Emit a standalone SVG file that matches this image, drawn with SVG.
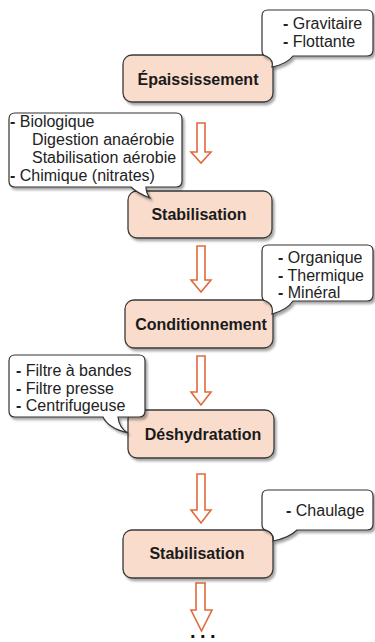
<svg xmlns="http://www.w3.org/2000/svg" width="375" height="642" viewBox="0 0 375 642">
<defs>
<filter id="sh" x="-10%" y="-10%" width="130%" height="140%">
<feDropShadow dx="2" dy="2.5" stdDeviation="1.3" flood-color="#000" flood-opacity="0.35"/>
</filter>
<style>
.box{fill:#f9dccb;stroke:#3a3a3a;stroke-width:1.3;filter:url(#sh)}
.call{fill:#fff;stroke:#333;stroke-width:1.2;filter:url(#sh)}
.lbl{font-family:"Liberation Sans",Arial,sans-serif;font-size:16px;font-weight:bold;fill:#1a1a1a;text-anchor:middle}
.txt{font-family:"Liberation Sans",Arial,sans-serif;font-size:16px;fill:#222}
.d{font-weight:bold}
.arr{fill:#fff;stroke:#e0693c;stroke-width:1.6;stroke-linejoin:miter}
</style>
</defs>
<rect width="375" height="642" fill="#fff"/>

<g id="connectors">
<path class="arr" d="M197,123 H205 V152 H211 L201,163 L191,152 H197 Z"/>
<path class="arr" d="M197,246 H205 V280 H211 L201,292 L191,280 H197 Z"/>
<path class="arr" d="M197,356 H205 V392 H211 L201,405 L191,392 H197 Z"/>
<path class="arr" d="M197,474 H205 V510 H211 L201,523 L191,510 H197 Z"/>
<path class="arr" d="M196,583 H205 V610 H212 L201.5,631 L191,610 H196 Z"/>
</g>

<g id="n1">
<rect class="box" x="123" y="55" width="150" height="47" rx="9"/>
<text class="lbl" x="198" y="84.5">Épaississement</text>
</g>
<g id="n2">
<rect class="box" x="128" y="191" width="144" height="47" rx="9"/>
<text class="lbl" x="199" y="220">Stabilisation</text>
</g>
<g id="n3">
<rect class="box" x="125" y="300" width="148" height="48" rx="9"/>
<text class="lbl" x="201" y="330">Conditionnement</text>
</g>
<g id="n4">
<rect class="box" x="128" y="410" width="146" height="48" rx="9"/>
<text class="lbl" x="203" y="440">Déshydratation</text>
</g>
<g id="n5">
<rect class="box" x="123" y="530" width="150" height="48" rx="9"/>
<text class="lbl" x="197" y="559">Stabilisation</text>
</g>

<g id="c1">
<path class="call" d="M268,10 H367 Q373,10 373,16 V50 Q373,56 367,56 H293 Q287,64 272,67 Q274,60 266,56 Q262,56 262,50 V16 Q262,10 268,10 Z"/>
<text class="txt" x="283" y="29"><tspan class="d">-</tspan> Gravitaire</text>
<text class="txt" x="283" y="47"><tspan class="d">-</tspan> Flottante</text>
</g>
<g id="c2">
<path class="call" d="M15,113 H176 Q182,113 182,119 V181 Q182,187 176,187 H146 Q146,193 150,198 Q137,193 131,187 H15 Q9,187 9,181 V119 Q9,113 15,113 Z"/>
<text class="txt" x="10" y="127"><tspan class="d">-</tspan> Biologique</text>
<text class="txt" x="32" y="145">Digestion anaérobie</text>
<text class="txt" x="32" y="163">Stabilisation aérobie</text>
<text class="txt" x="10" y="181"><tspan class="d">-</tspan> Chimique (nitrates)</text>
</g>
<g id="c3">
<path class="call" d="M268,245 H367 Q373,245 373,251 V295 Q373,301 367,301 H293 Q287,310 272,314 Q274,305 266,301 Q262,301 262,295 V251 Q262,245 268,245 Z"/>
<text class="txt" x="278" y="263"><tspan class="d">-</tspan> Organique</text>
<text class="txt" x="278" y="281"><tspan class="d">-</tspan> Thermique</text>
<text class="txt" x="278" y="298"><tspan class="d">-</tspan> Minéral</text>
</g>
<g id="c4">
<path class="call" d="M15,355 H139 Q145,355 145,361 V411 Q145,417 139,417 H118 Q119,428 128,433 Q108,428 103,417 H15 Q9,417 9,411 V361 Q9,355 15,355 Z"/>
<text class="txt" x="16" y="376"><tspan class="d">-</tspan> Filtre à bandes</text>
<text class="txt" x="16" y="394"><tspan class="d">-</tspan> Filtre presse</text>
<text class="txt" x="16" y="411"><tspan class="d">-</tspan> Centrifugeuse</text>
</g>
<g id="c5">
<path class="call" d="M268,490 H367 Q373,490 373,496 V524 Q373,530 367,530 H297 Q289,538 273,541 Q275,534 266,530 Q262,530 262,524 V496 Q262,490 268,490 Z"/>
<text class="txt" x="286" y="516"><tspan class="d">-</tspan> Chaulage</text>
</g>

<text x="190" y="637.5" font-family="Liberation Sans, Arial, sans-serif" font-size="20" font-weight="bold" letter-spacing="4.5" fill="#111">...</text>
</svg>
